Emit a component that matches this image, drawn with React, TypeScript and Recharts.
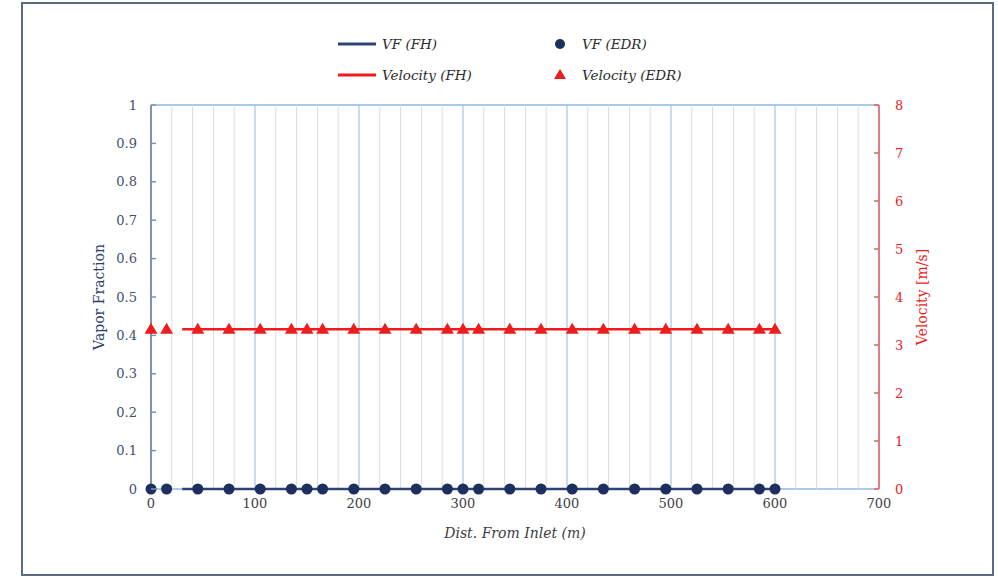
import { ComposedChart, Line, Scatter, XAxis, YAxis, CartesianGrid } from 'recharts'

// EDR sample points (distance from inlet, m)
const edrDist = [0, 15, 45, 75, 105, 135, 150, 165, 195, 225, 255, 285, 300, 315, 345, 375, 405, 435, 465, 495, 525, 555, 585, 600]
const edrVF = [0, 0, 0, 0, 0, 0, 0, 0, 0, 0, 0, 0, 0, 0, 0, 0, 0, 0, 0, 0, 0, 0, 0, 0]
const edrVelocity = [3.34, 3.34, 3.34, 3.34, 3.34, 3.34, 3.34, 3.34, 3.34, 3.34, 3.34, 3.34, 3.34, 3.34, 3.34, 3.34, 3.34, 3.34, 3.34, 3.34, 3.34, 3.34, 3.34, 3.34]

// FH results
const fhDist = [30, 600]
const fhVF = [0, 0]
const fhVelocity = [3.33, 3.33]

const xTicks = [0, 20, 40, 60, 80, 100, 120, 140, 160, 180, 200, 220, 240, 260, 280, 300, 320, 340, 360, 380, 400, 420, 440, 460, 480, 500, 520, 540, 560, 580, 600, 620, 640, 660, 680, 700]
const vfTicks = [0, 0.1, 0.2, 0.3, 0.4, 0.5, 0.6, 0.7, 0.8, 0.9, 1]
const velTicks = [0, 1, 2, 3, 4, 5, 6, 7, 8]

const edrData = edrDist.map((x, i) => ({ x, vf: edrVF[i], vel: edrVelocity[i] }))
const fhData = fhDist.map((x, i) => ({ x, vf: fhVF[i], vel: fhVelocity[i] }))

const FONT = '"DejaVu Serif", serif'
const NAVY = '#1c2f5f'
const RED = '#ee1c1c'
const MAJOR = '#8fb9df'
const MINOR = '#dcdcdc'

const LeftTick = ({ x, y, payload }: any) => (
  <g>
    <line x1={x + 14} x2={x + 19} y1={y} y2={y} stroke="#7f92b2" strokeWidth={1.5} />
    <text x={x} y={y} dy={4.5} textAnchor="end" fontSize={13} fontFamily={FONT} fill="#414f6e">
      {payload.value}
    </text>
  </g>
)

const RightTick = ({ x, y, payload }: any) => (
  <g>
    <line x1={x - 16} x2={x - 21} y1={y} y2={y} stroke="#e06262" strokeWidth={1.5} />
    <text x={x} y={y} dy={4.5} textAnchor="start" fontSize={13} fontFamily={FONT} fill={RED}>
      {payload.value}
    </text>
  </g>
)

const BottomTick = ({ x, y, payload }: any) =>
  payload.value % 100 === 0 ? (
    <text x={x} y={y} dy="0.71em" textAnchor="middle" fontSize={13} fontFamily={FONT} fill="#404040">
      {payload.value}
    </text>
  ) : (
    <g />
  )

const VGridLine = (p: any) => (
  <line
    key={p.key}
    x1={p.x1}
    y1={p.y1}
    x2={p.x2}
    y2={p.y2}
    stroke={xTicks[p.index] % 100 === 0 ? MAJOR : MINOR}
    strokeWidth={1}
  />
)

// only the plot-area top and bottom edges, drawn beneath the series
const HGridLine = (p: any) =>
  p.index === 0 || p.index === vfTicks.length - 1 ? (
    <line key={p.key} x1={p.x1} y1={p.y1} x2={p.x2} y2={p.y2} stroke={MAJOR} strokeWidth={1.5} />
  ) : (
    <g key={p.key} />
  )

const Circle = ({ cx, cy }: any) => <circle cx={cx} cy={cy} r={5.5} fill={NAVY} />
const Triangle = ({ cx, cy }: any) => (
  <polygon points={`${cx},${cy - 6} ${cx + 6.5},${cy + 5} ${cx - 6.5},${cy + 5}`} fill={RED} />
)

const legendItems = [
  { label: 'VF (FH)', kind: 'line', color: '#2c4377', left: 338, top: 44 },
  { label: 'VF (EDR)', kind: 'circle', color: NAVY, left: 553, top: 44 },
  { label: 'Velocity (FH)', kind: 'line', color: RED, left: 338, top: 75 },
  { label: 'Velocity (EDR)', kind: 'triangle', color: RED, left: 553, top: 75 },
]

function LegendBox() {
  return (
    <>
      {legendItems.map((it) => (
        <div
          key={it.label}
          style={{ position: 'absolute', left: it.left, top: it.top - 10, height: 20, display: 'flex', alignItems: 'center' }}
        >
          <svg width={it.kind === 'line' ? 38 : 16} height={20} style={{ marginRight: it.kind === 'line' ? 6 : 13 }}>
            {it.kind === 'line' && <line x1={0} x2={38} y1={10} y2={10} stroke={it.color} strokeWidth={3} />}
            {it.kind === 'circle' && <circle cx={7} cy={10} r={5} fill={it.color} />}
            {it.kind === 'triangle' && <polygon points="7,4 13,14 1,14" fill={it.color} />}
          </svg>
          <span style={{ fontFamily: FONT, fontStyle: 'italic', fontSize: 13.5, color: '#2a2a2a', whiteSpace: 'nowrap' }}>
            {it.label}
          </span>
        </div>
      ))}
    </>
  )
}

export default function App() {
  return (
    <div style={{ position: 'absolute', left: 0, top: 0, width: 998, height: 577, background: '#fff' }}>
      <div
        style={{
          position: 'absolute',
          left: 21,
          top: 2,
          width: 973,
          height: 574,
          border: '2px solid #5d6b82',
          boxSizing: 'border-box',
        }}
      />
      <LegendBox />
      <ComposedChart
        width={998}
        height={577}
        style={{ position: 'absolute', left: 0, top: 0 }}
        margin={{ top: 105, right: 59, bottom: 32, left: 91 }}
      >
        <CartesianGrid yAxisId="vf" horizontal={HGridLine} vertical={VGridLine} />
        <XAxis
          dataKey="x"
          type="number"
          domain={[0, 700]}
          ticks={xTicks}
          interval={0}
          height={56}
          tickSize={0}
          tickMargin={10}
          tick={BottomTick}
          axisLine={false}
          label={{
            value: 'Dist. From Inlet (m)',
            position: 'insideBottom',
            offset: 7,
            style: { fontFamily: FONT, fontStyle: 'italic', fontSize: 14, fill: '#404040' },
          }}
        />
        <YAxis
          yAxisId="vf"
          orientation="left"
          type="number"
          domain={[0, 1]}
          ticks={vfTicks}
          interval={0}
          width={60}
          tickSize={0}
          tickMargin={14}
          tick={LeftTick}
          axisLine={{ stroke: '#7f92b2', strokeWidth: 2 }}
          label={{
            value: 'Vapor Fraction',
            angle: -90,
            position: 'insideLeft',
            offset: 8,
            style: { textAnchor: 'middle', fontFamily: FONT, fontSize: 14, fill: '#2b3d6b' },
          }}
        />
        <YAxis
          yAxisId="vel"
          orientation="right"
          type="number"
          domain={[0, 8]}
          ticks={velTicks}
          interval={0}
          width={60}
          tickSize={0}
          tickMargin={16}
          tick={RightTick}
          axisLine={{ stroke: '#e06262', strokeWidth: 1.5 }}
          label={{
            value: 'Velocity [m/s]',
            angle: -90,
            position: 'insideRight',
            offset: 17,
            style: { textAnchor: 'middle', fontFamily: FONT, fontSize: 14, fill: RED },
          }}
        />
        <Line
          yAxisId="vf"
          data={fhData}
          dataKey="vf"
          type="linear"
          stroke="#2c4377"
          strokeWidth={2.5}
          dot={false}
          isAnimationActive={false}
        />
        <Line
          yAxisId="vel"
          data={fhData}
          dataKey="vel"
          type="linear"
          stroke={RED}
          strokeWidth={2.5}
          dot={false}
          isAnimationActive={false}
        />
        <Scatter yAxisId="vf" data={edrData} dataKey="vf" shape={Circle} isAnimationActive={false} />
        <Scatter yAxisId="vel" data={edrData} dataKey="vel" shape={Triangle} isAnimationActive={false} />
      </ComposedChart>
    </div>
  )
}
